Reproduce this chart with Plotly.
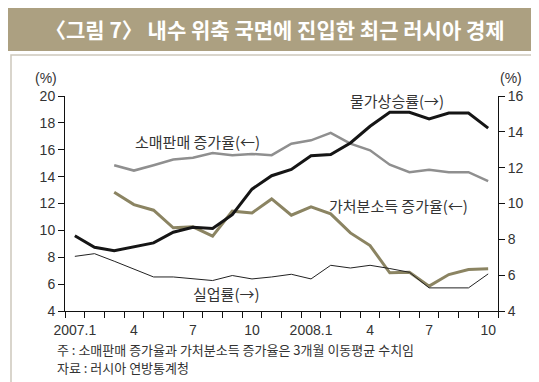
import plotly.graph_objects as go

# ---------------- data ----------------
months = ["2007.1", "2007.2", "2007.3", "2007.4", "2007.5", "2007.6", "2007.7", "2007.8",
          "2007.9", "2007.10", "2007.11", "2007.12", "2008.1", "2008.2", "2008.3", "2008.4",
          "2008.5", "2008.6", "2008.7", "2008.8", "2008.9", "2008.10"]
tick_months = ["2007.1", "2007.4", "2007.7", "2007.10", "2008.1", "2008.4", "2008.7", "2008.10"]
tick_labels = ["2007.1", "4", "7", "10", "2008.1", "4", "7", "10"]

# left axis (%)
retail_sales = [None, None, 14.85, 14.45, 14.85, 15.27, 15.4, 15.76, 15.59, 15.69, 15.6, 16.45,
                16.7, 17.25, 16.45, 15.96, 14.89, 14.33, 14.52, 14.33, 14.33, 13.66]
disposable_income = [None, None, 12.84, 11.92, 11.5, 10.19, 10.26, 9.57, 11.43, 11.3, 12.34, 11.13,
                     11.75, 11.23, 9.81, 8.87, 6.84, 6.89, 5.85, 6.71, 7.09, 7.14]
# right axis (%)
inflation = [8.2, 7.56, 7.37, 7.57, 7.8, 8.4, 8.67, 8.6, 9.38, 10.8, 11.55, 11.9,
             12.67, 12.73, 13.38, 14.31, 15.09, 15.09, 14.72, 15.05, 15.05, 14.21]
unemployment = [7.05, 7.2, 6.78, 6.35, 5.9, 5.9, 5.8, 5.7, 5.98, 5.79, 5.9, 6.05,
                5.79, 6.55, 6.4, 6.55, 6.37, 6.16, 5.29, 5.29, 5.29, 6.07]

title_text = "〈그림 7〉 내수 위축 국면에 진입한 최근 러시아 경제"
note_text = "주 : 소매판매 증가율과 가처분소득 증가율은 3개월 이동평균 수치임"
source_text = "자료 : 러시아 연방통계청"

# ---------------- figure ----------------
W, H = 539, 382
ML, MR, MT, MB = 57, 49, 88, 79
PW, PH = W - ML - MR, H - MT - MB


def px(x):
    return (x - ML) / PW


def py(y):
    return (H - MB - y) / PH


x = list(range(len(months)))
KR = "Noto Sans CJK KR"
LAT = "Liberation Sans"
TXT = "#333333"

fig = go.Figure()
fig.add_trace(go.Scatter(x=x, y=retail_sales, mode="lines", line=dict(color="#8f8f8f", width=2.5),
                         yaxis="y", showlegend=False))
fig.add_trace(go.Scatter(x=x, y=disposable_income, mode="lines", line=dict(color="#8b8462", width=3),
                         yaxis="y", showlegend=False))
fig.add_trace(go.Scatter(x=x, y=unemployment, mode="lines", line=dict(color="#222222", width=1),
                         yaxis="y2", showlegend=False))
fig.add_trace(go.Scatter(x=x, y=inflation, mode="lines", line=dict(color="#151515", width=3),
                         yaxis="y2", showlegend=False))

axis_common = dict(showline=True, linecolor="#111111", linewidth=1, showgrid=False, zeroline=False,
                   ticks="outside", ticklen=6, tickcolor="#111111", tickwidth=1,
                   tickfont=dict(family=LAT, size=14, color=TXT))

fig.update_layout(
    width=W, height=H,
    margin=dict(l=ML, r=MR, t=MT, b=MB, pad=0),
    paper_bgcolor="white", plot_bgcolor="white",
    xaxis=dict(range=[-0.5, len(months) - 0.5],
               tickvals=[months.index(m) for m in tick_months], ticktext=tick_labels,
               showline=True, linecolor="#111111", linewidth=1, showgrid=False, zeroline=False,
               ticks="outside", ticklen=6, tickcolor="rgba(0,0,0,0)",
               tickfont=dict(family=LAT, size=14, color=TXT),
               minor=dict(tickvals=[i - 0.5 for i in range(len(months) + 1)], ticks="outside",
                          ticklen=6, tickcolor="#111111", tickwidth=1, showgrid=False)),
    yaxis=dict(range=[4, 20], tick0=4, dtick=2, side="left", **axis_common),
    yaxis2=dict(range=[4, 16], tick0=4, dtick=2, side="right", overlaying="y", anchor="x", **axis_common),
)

shapes = [
    dict(type="rect", xref="paper", yref="paper", x0=px(3), x1=px(534), y0=py(378), y1=py(47),
         line=dict(color="#cdc8bc", width=1.5), fillcolor="rgba(0,0,0,0)", layer="below"),
    dict(type="rect", xref="paper", yref="paper", x0=px(0), x1=px(W), y0=py(43), y1=py(0),
         line=dict(width=0), fillcolor="#aca081", layer="below"),
]
fig.update_layout(shapes=shapes)

ann = [
    dict(text=title_text, x=px(267), y=py(21), font=dict(family=KR, size=21, color="white", weight="bold")),
    dict(text="(%)", x=px(38), y=py(70), font=dict(family=LAT, size=14, color=TXT)),
    dict(text="(%)", x=px(503), y=py(70), font=dict(family=LAT, size=14, color=TXT)),
    dict(text="소매판매 증가율(←)", x=px(189.5), y=py(133), font=dict(family=KR, size=15, color=TXT)),
    dict(text="물가상승률(→)", x=px(389), y=py(92), font=dict(family=KR, size=15, color=TXT)),
    dict(text="가처분소득 증가율(←)", x=px(390.5), y=py(197), font=dict(family=KR, size=15, color=TXT)),
    dict(text="실업률(→)", x=px(218), y=py(285), font=dict(family=KR, size=15, color=TXT)),
]
for a in ann:
    a.update(xref="paper", yref="paper", showarrow=False, xanchor="center", yanchor="middle")
ann += [
    dict(text=note_text, x=px(47), y=py(341), xref="paper", yref="paper", showarrow=False,
         xanchor="left", yanchor="middle", font=dict(family=KR, size=13, color=TXT)),
    dict(text=source_text, x=px(47), y=py(359), xref="paper", yref="paper", showarrow=False,
         xanchor="left", yanchor="middle", font=dict(family=KR, size=13, color=TXT)),
]
fig.update_layout(annotations=ann)

fig.write_html("out.html")
